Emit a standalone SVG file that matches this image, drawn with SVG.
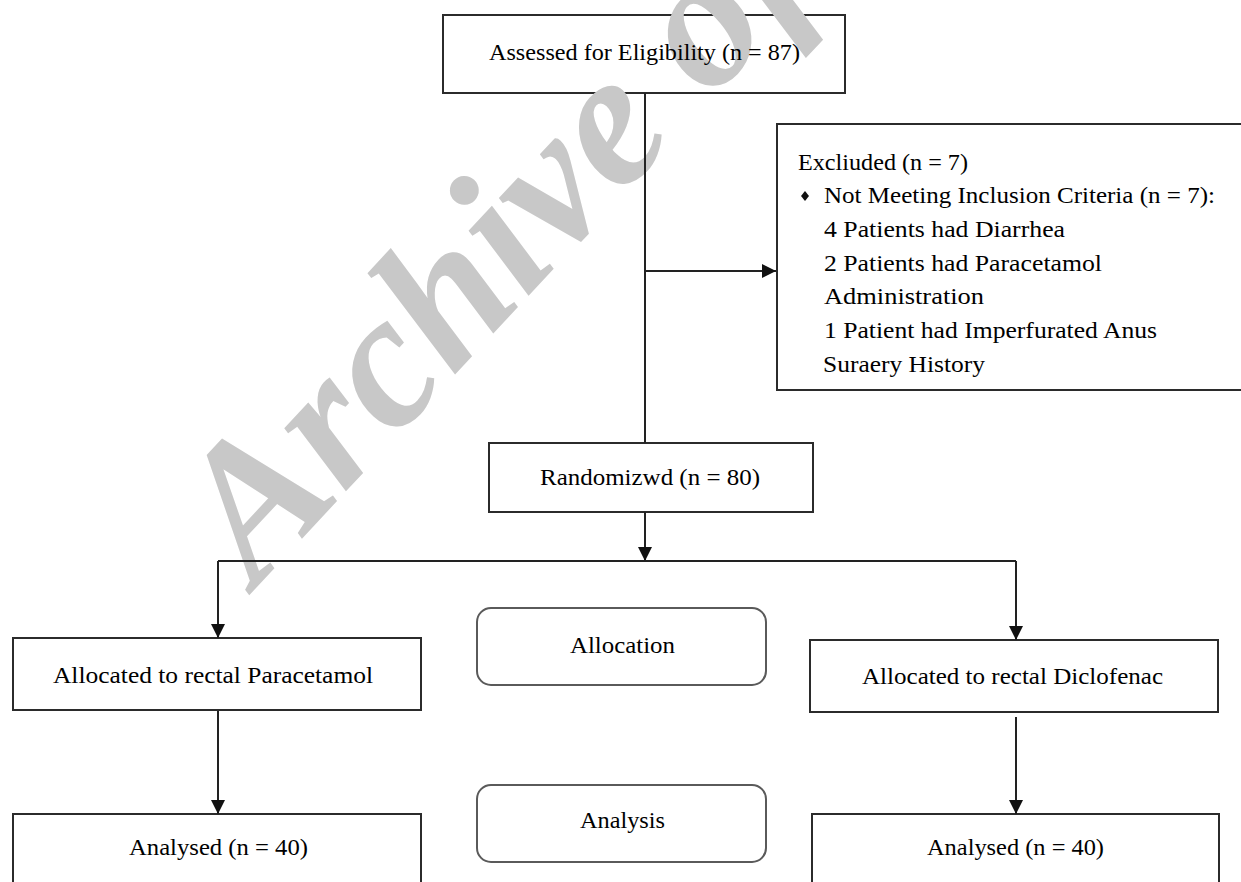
<svg xmlns="http://www.w3.org/2000/svg" width="1241" height="882" viewBox="0 0 1241 882">
<style>
.bg{fill:#ffffff}
.box{fill:#ffffff;stroke:#2b2b2b;stroke-width:2}
.rbox{fill:#ffffff;stroke:#5a5a5a;stroke-width:2}
.t{font-family:"Liberation Serif","Times New Roman",serif;font-size:24px;fill:#000000}
.wm{font-family:"Liberation Serif","Times New Roman",serif;font-size:192px;font-weight:bold;font-style:italic;fill:#c8c8c8}
.ln{fill:none;stroke:#222222;stroke-width:2}
</style>
<defs>
<marker id="ah" markerUnits="userSpaceOnUse" markerWidth="14" markerHeight="14" viewBox="0 0 14 14" refX="14" refY="7" orient="auto">
<path d="M0,0 L14,7 L0,14 Z" fill="#111111"/>
</marker>
</defs>
<rect class="bg" x="0" y="0" width="1241" height="882"/>

<g id="n-assessed">
<rect class="box" x="443" y="15" width="402" height="78"/>
</g>
<g id="n-excluded">
<rect class="box" x="777" y="124" width="480" height="266"/>
</g>
<g id="n-randomized">
<rect class="box" x="489" y="443" width="324" height="69"/>
</g>
<g id="n-alloc-para">
<rect class="box" x="13" y="638" width="408" height="72"/>
</g>
<g id="n-alloc-diclo">
<rect class="box" x="810" y="640" width="408" height="72"/>
</g>
<g id="n-allocation">
<rect class="rbox" x="477" y="608" width="289" height="77" rx="14" ry="14"/>
</g>
<g id="n-analysis">
<rect class="rbox" x="477" y="785" width="289" height="77" rx="14" ry="14"/>
</g>
<g id="n-analysed-para">
<rect class="box" x="13" y="814" width="408" height="90"/>
</g>
<g id="n-analysed-diclo">
<rect class="box" x="812" y="814" width="407" height="90"/>
</g>

<g id="watermark">
<text class="wm" x="256" y="588" transform="rotate(-47 256 588)">Archive of</text>
</g>

<g id="connectors">
<path class="ln" d="M645,93 V443"/>
<path class="ln" d="M645,271 H776" marker-end="url(#ah)"/>
<path class="ln" d="M645,512 V561" marker-end="url(#ah)"/>
<path class="ln" d="M218,561 H1016"/>
<path class="ln" d="M218,561 V638" marker-end="url(#ah)"/>
<path class="ln" d="M1016,561 V640" marker-end="url(#ah)"/>
<path class="ln" d="M218,711 V814" marker-end="url(#ah)"/>
<path class="ln" d="M1016,717 V814" marker-end="url(#ah)"/>
</g>

<g id="labels">
<text class="t" x="489" y="60" textLength="311" lengthAdjust="spacingAndGlyphs">Assessed for Eligibility (n = 87)</text>
<text class="t" x="798" y="170" textLength="170" lengthAdjust="spacingAndGlyphs">Excliuded (n = 7)</text>
<path d="M805,191 L809,196 L805,201 L801,196 Z" fill="#111111"/>
<text class="t" x="824" y="203" textLength="391" lengthAdjust="spacingAndGlyphs">Not Meeting Inclusion Criteria (n = 7):</text>
<text class="t" x="824" y="237" textLength="241" lengthAdjust="spacingAndGlyphs">4 Patients had Diarrhea</text>
<text class="t" x="824" y="271" textLength="278" lengthAdjust="spacingAndGlyphs">2 Patients had Paracetamol</text>
<text class="t" x="824" y="304" textLength="160" lengthAdjust="spacingAndGlyphs">Administration</text>
<text class="t" x="824" y="338" textLength="333" lengthAdjust="spacingAndGlyphs">1 Patient had Imperfurated Anus</text>
<text class="t" x="823" y="372" textLength="162" lengthAdjust="spacingAndGlyphs">Suraery History</text>
<text class="t" x="540" y="485" textLength="220" lengthAdjust="spacingAndGlyphs">Randomizwd (n = 80)</text>
<text class="t" x="570" y="653" textLength="105" lengthAdjust="spacingAndGlyphs">Allocation</text>
<text class="t" x="53" y="683" textLength="320" lengthAdjust="spacingAndGlyphs">Allocated to rectal Paracetamol</text>
<text class="t" x="862" y="684" textLength="301" lengthAdjust="spacingAndGlyphs">Allocated to rectal Diclofenac</text>
<text class="t" x="580" y="828" textLength="85" lengthAdjust="spacingAndGlyphs">Analysis</text>
<text class="t" x="129" y="855" textLength="179" lengthAdjust="spacingAndGlyphs">Analysed (n = 40)</text>
<text class="t" x="927" y="855" textLength="177" lengthAdjust="spacingAndGlyphs">Analysed (n = 40)</text>
</g>
</svg>
